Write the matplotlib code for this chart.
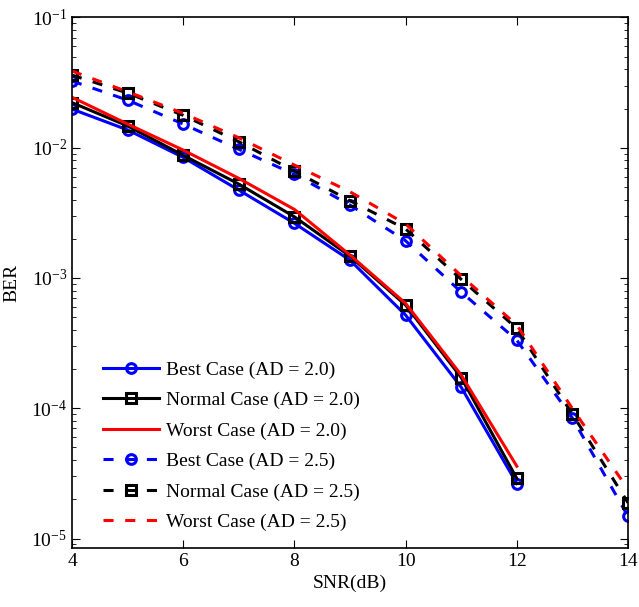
import numpy as np
import matplotlib.pyplot as plt

plt.rcParams['font.family'] = ['Liberation Serif', 'DejaVu Serif']
plt.rcParams['mathtext.fontset'] = 'stix'

snr_ad20 = [4, 5, 6, 7, 8, 9, 10, 11, 12]
best_ad20 = [0.0198, 0.0137, 0.00843, 0.00473, 0.00263, 0.00137, 0.000519, 0.000145, 2.64e-5]
normal_ad20 = [0.0222, 0.0147, 0.00875, 0.00526, 0.00295, 0.00147, 0.000619, 0.000172, 2.89e-5]
worst_ad20 = [0.0244, 0.0152, 0.00959, 0.00582, 0.00336, 0.00150, 0.000638, 0.000180, 3.59e-5]

snr_ad25 = [4, 5, 6, 7, 8, 9, 10, 11, 12, 13, 14]
best_ad25 = [0.0325, 0.0232, 0.0152, 0.00972, 0.00625, 0.00363, 0.00193, 0.00078, 0.000333, 8.4e-5, 1.48e-5]
normal_ad25 = [0.0361, 0.0263, 0.01774, 0.01112, 0.00662, 0.00392, 0.00238, 0.000976, 0.00041, 9.0e-5, 1.88e-5]
worst_ad25 = [0.0388, 0.0269, 0.01837, 0.01193, 0.00736, 0.00459, 0.0026, 0.00104, 0.000435, 9.95e-5, 2.39e-5]

fig = plt.figure(figsize=(6.39, 6.07), dpi=100)
ax = fig.add_axes([0.1127, 0.0977, 0.8701, 0.8735])

lw = 2.2
dash = (0, (3.3, 3.8))
mk = dict(markersize=7, markerfacecolor='none', markeredgewidth=2.2)

ax.semilogy(snr_ad20, best_ad20, '-', color='b', marker='o', lw=lw, label='Best Case (AD = 2.0)', **mk)
ax.semilogy(snr_ad20, normal_ad20, '-', color='k', marker='s', lw=lw, label='Normal Case (AD = 2.0)', **mk)
ax.semilogy(snr_ad20, worst_ad20, '-', color='r', lw=lw, label='Worst Case (AD = 2.0)')
ax.semilogy(snr_ad25, best_ad25, linestyle=dash, color='b', marker='o', lw=lw, label='Best Case (AD = 2.5)', **mk)
ax.semilogy(snr_ad25, normal_ad25, linestyle=dash, color='k', marker='s', lw=lw, label='Normal Case (AD = 2.5)', **mk)
ax.semilogy(snr_ad25, worst_ad25, linestyle=dash, color='r', lw=lw, label='Worst Case (AD = 2.5)')

ax.set_xlim(4, 14)
ax.set_ylim(8.5e-6, 1e-1)
ax.set_xticks([4, 6, 8, 10, 12, 14])
ax.tick_params(which='both', direction='in', top=True, right=True, labelsize=14)
ax.tick_params(which='major', length=6)
ax.tick_params(which='minor', length=3)
for s in ax.spines.values():
    s.set_linewidth(1.2)

ax.set_xlabel('SNR(dB)', fontsize=14)
ax.set_ylabel('BER', fontsize=14, labelpad=8)

ax.legend(loc='lower left', bbox_to_anchor=(0.055, 0.031), frameon=False, fontsize=14,
          handlelength=2.9, handletextpad=0.36, labelspacing=0.66, borderpad=0, borderaxespad=0)

fig.savefig('out.png', dpi=100)
